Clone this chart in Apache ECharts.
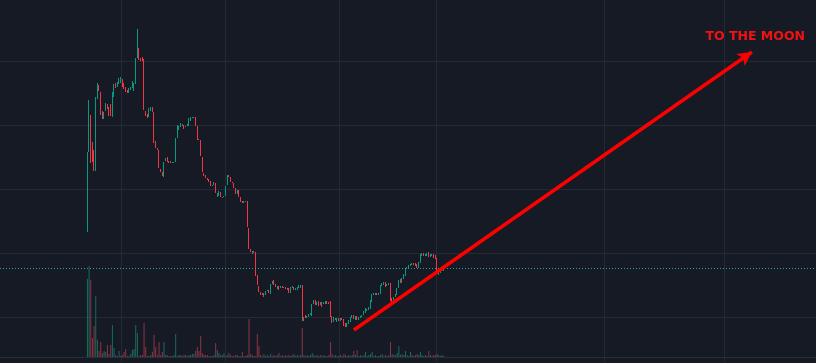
<!DOCTYPE html>
<html>
<head>
<meta charset="utf-8">
<script src="https://cdn.jsdelivr.net/npm/echarts@6/dist/echarts.min.js"></script>
<style>
  html, body { margin: 0; padding: 0; background: #161a25; overflow: hidden; }
  /* the price pane is a bit taller than the window so the grid rows land where they should */
  #chart { position: absolute; left: 0; top: -3px; width: 816px; height: 384px; }
</style>
</head>
<body>
<div id="chart"></div>
<script>
// price candles, one per bar (open, close, low, high)
const opens = [156,229,264,239,231,210,282,296,289,270,
  262,270,277,274,273,264,284,298,294,297,
  299,302,298,294,291,288,291,293,291,297,
  323,333,323,324,322,270,267,264,270,274,
  269,240,233,231,212,209,204,220,224,220,
  220,218,218,219,243,253,254,255,256,255,
  255,255,260,263,263,264,255,242,241,224,
  208,206,203,202,200,195,196,198,185,185,
  189,183,184,185,196,206,204,199,198,193,
  187,191,184,180,178,179,180,153,132,127,
  130,129,106,95,89,86,88,86,90,91,
  87,97,101,97,92,95,93,95,93,94,
  93,93,88,93,94,91,91,93,93,96,
  60,66,63,64,66,65,77,81,76,80,
  76,79,77,77,80,79,80,65,59,61,
  59,63,60,63,62,58,54,57,59,63,
  66,61,65,61,63,64,66,68,70,71,
  72,79,86,86,88,86,87,95,96,99,
  95,96,98,83,81,84,86,93,102,98,
  102,105,112,113,115,116,118,118,117,113,
  118,125,128,125,125,129,124,125,127,126,
  123,106,108,110,110];
const closes = [223,279,220,219,210,284,298,290,266,262,
  269,278,272,265,268,289,297,293,299,303,
  302,294,292,289,288,293,294,300,297,323,
  333,321,320,320,271,265,263,273,274,269,
  238,233,231,213,209,205,219,223,219,218,
  218,219,219,243,256,254,258,257,252,254,
  257,263,264,264,264,255,241,241,225,209,
  205,203,201,199,195,196,199,188,187,190,
  184,184,185,195,206,204,199,198,193,187,
  191,184,179,178,180,180,154,132,129,130,
  128,105,96,89,86,88,84,90,91,88,
  97,100,96,94,95,91,95,93,94,92,
  91,88,94,95,91,93,94,96,96,60,
  64,63,65,67,68,77,81,76,79,75,
  79,74,79,80,77,77,64,58,64,63,
  63,60,63,61,55,54,58,61,64,66,
  62,65,61,64,65,66,70,73,72,74,
  81,87,88,88,86,88,96,98,99,94,
  97,98,80,79,84,87,93,101,98,103,
  107,112,114,116,117,118,116,115,113,119,
  127,128,125,127,128,124,127,127,123,122,
  109,110,111,112,113];
const lows = [149,229,218,219,210,210,282,290,266,262,
  262,270,272,265,265,264,284,293,294,297,
  298,294,292,289,288,288,291,293,290,297,
  323,321,320,320,271,265,263,264,270,269,
  238,233,231,213,209,205,204,220,219,218,
  218,218,218,219,243,251,254,255,252,254,
  255,255,260,263,263,255,241,241,225,209,
  205,203,201,199,195,195,196,188,184,185,
  184,183,184,185,196,204,199,198,193,187,
  187,184,179,178,178,179,154,132,129,127,
  128,105,96,89,86,86,84,86,90,88,
  87,97,96,94,92,91,93,93,93,92,
  91,88,88,93,91,91,91,93,93,60,
  60,63,63,64,66,65,77,76,76,75,
  76,74,77,77,77,77,64,58,59,61,
  59,60,60,61,55,54,54,57,59,63,
  62,61,61,61,63,64,66,68,70,71,
  72,79,86,86,86,86,87,95,96,94,
  95,96,80,79,81,84,86,93,98,98,
  102,105,112,113,115,116,116,115,113,113,
  118,125,125,125,125,124,124,125,123,122,
  109,106,108,110,110];
const highs = [229,281,266,239,231,284,298,296,289,270,
  269,278,277,274,277,289,297,298,299,303,
  304,302,298,294,291,293,294,300,298,323,
  352,333,323,324,322,270,267,273,274,274,
  269,240,233,231,212,209,219,223,224,220,
  220,219,219,243,256,255,258,257,256,255,
  257,263,264,264,264,264,255,242,241,224,
  208,206,203,202,200,196,199,198,188,190,
  189,184,185,195,206,206,204,199,198,193,
  191,191,184,180,180,180,180,153,132,130,
  130,129,106,95,89,88,88,90,91,91,
  97,100,101,97,95,95,95,95,94,94,
  93,93,94,95,94,93,94,96,96,96,
  64,66,65,67,68,77,81,81,79,80,
  79,79,79,80,80,79,80,65,64,63,
  63,63,63,63,62,58,58,61,64,66,
  66,65,65,64,65,66,70,73,72,74,
  81,87,88,88,88,88,96,98,99,99,
  97,98,98,83,84,87,93,101,102,103,
  107,112,114,116,117,118,118,118,117,119,
  127,128,128,127,128,129,127,127,127,126,
  123,110,111,112,113];
const volumes = [78,91,77,19,31,61,17,6,15,4,
  6,5,12,3,12,32,9,2,1,6,
  1,2,5,8,1,1,3,7,8,32,
  24,1,2,2,34,10,1,1,2,5,
  22,10,2,15,2,5,15,2,2,1,
  1,1,2,23,1,2,2,1,2,2,
  1,2,2,3,3,6,10,6,21,4,
  2,2,2,1,1,1,2,14,7,4,
  2,2,4,1,2,4,2,1,1,2,
  2,1,1,5,1,1,2,38,3,2,
  1,1,23,11,2,1,3,1,2,1,
  3,1,2,1,2,4,1,2,1,2,
  1,2,1,2,3,1,2,1,2,29,
  2,1,2,1,2,4,2,1,2,1,
  2,1,2,1,1,2,15,3,1,2,
  1,1,2,1,3,2,1,2,1,2,
  6,2,7,1,2,1,2,5,1,2,
  3,5,1,2,1,1,2,3,1,2,
  1,2,15,3,2,2,4,11,2,3,
  2,6,2,1,5,2,1,2,3,2,
  5,2,1,2,1,6,2,1,2,2,
  3,2,1,2,1];

const PAD = 52;      // empty slots left of the first candle
const SLOTS = 490;   // slots across the whole width
const timeLines = [73, 135, 204, 262, 363, 435];
const lastPrice = 113;
const arrowFrom = [212, 51];
const arrowTo = [451, 329];
const moonAt = [453, 344];
const moonText = 'TO THE MOON';

const UP = '#089981', DOWN = '#f23645';
const VOL_UP = '#1b6b5e', VOL_DOWN = '#8c3543';
const GRID_COLOR = '#252934';

const cats = [];
for (let i = 0; i < SLOTS; i++) cats.push(String(i));

const candleData = [];
const volumeData = [];
for (let i = 0; i < PAD; i++) { candleData.push('-'); volumeData.push('-'); }
opens.forEach(function (o, i) {
  candleData.push([o, closes[i], lows[i], highs[i]]);
  volumeData.push({
    value: volumes[i],
    itemStyle: { color: closes[i] >= o ? VOL_UP : VOL_DOWN }
  });
});

const chart = echarts.init(document.getElementById('chart'), null, { renderer: 'canvas' });
chart.setOption({
  backgroundColor: '#161a25',
  animation: false,
  grid: [
    { left: 0, right: 0, top: 0, bottom: 0 },
    { left: 0, right: 0, top: 260, bottom: 24 }
  ],
  xAxis: [
    {
      type: 'category', gridIndex: 0, data: cats, boundaryGap: true,
      axisLine: { show: false }, axisTick: { show: false }, axisLabel: { show: false },
      splitLine: {
        show: true,
        interval: function (idx) { return timeLines.indexOf(idx) >= 0; },
        lineStyle: { color: GRID_COLOR, width: 1 }
      }
    },
    {
      type: 'category', gridIndex: 1, data: cats, boundaryGap: true,
      axisLine: { show: true, lineStyle: { color: '#2a2e39' } },
      axisTick: { show: false }, axisLabel: { show: false }, splitLine: { show: false }
    }
  ],
  yAxis: [
    {
      type: 'value', gridIndex: 0, min: 0, max: 384, interval: 64,
      axisLine: { show: false }, axisTick: { show: false }, axisLabel: { show: false },
      splitLine: { show: true, lineStyle: { color: GRID_COLOR, width: 1 } }
    },
    {
      type: 'value', gridIndex: 1, min: 0, max: 100, show: false,
      splitLine: { show: false }
    }
  ],
  series: [
    {
      type: 'bar', xAxisIndex: 1, yAxisIndex: 1,
      data: volumeData, barWidth: 1, silent: true
    },
    {
      type: 'candlestick', xAxisIndex: 0, yAxisIndex: 0,
      data: candleData, barWidth: 0.1, silent: true,
      itemStyle: { color: UP, color0: DOWN, borderColor: UP, borderColor0: DOWN, borderWidth: 1 },
      markLine: {
        silent: true,
        animation: false,
        symbol: ['none', 'none'],
        label: { show: false },
        emphasis: { disabled: true },
        data: [
          { yAxis: lastPrice,
            lineStyle: { color: '#26a69a', width: 1, type: [1, 2] } },
          [
            { coord: arrowFrom,
              lineStyle: { color: '#ff0000', width: 3.5, type: 'solid' },
              itemStyle: { color: '#ff0000' } },
            { coord: arrowTo, symbol: 'arrow', symbolSize: [11, 14],
              itemStyle: { color: '#ff0000' } }
          ]
        ]
      },
      markPoint: {
        silent: true,
        symbol: 'rect',
        symbolSize: 1,
        itemStyle: { color: 'rgba(0,0,0,0)' },
        label: {
          show: true, position: 'inside', formatter: moonText,
          color: '#f21212', fontSize: 12.5, fontWeight: 'bold', fontFamily: 'DejaVu Sans'
        },
        data: [{ coord: moonAt }]
      }
    }
  ]
});
</script>
</body>
</html>
